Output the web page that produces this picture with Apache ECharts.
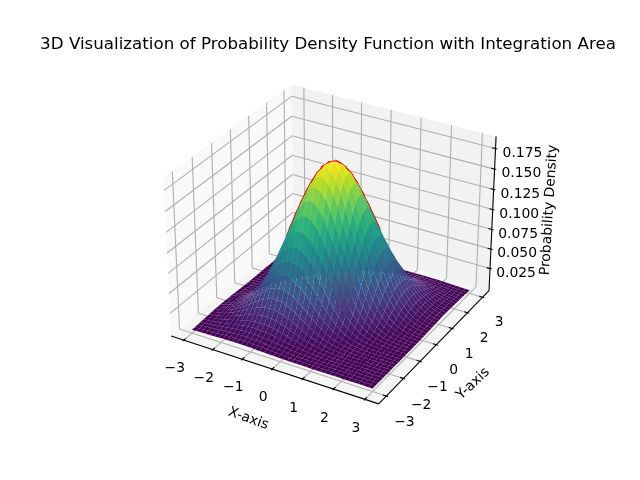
<!DOCTYPE html>
<html><head><meta charset="utf-8"><style>html,body{margin:0;padding:0;background:#fff}#c{width:640px;height:480px}</style>
<script src="https://cdn.jsdelivr.net/npm/echarts@6/dist/echarts.min.js"></script></head><body><div id="c"></div>
<script>
const zUnit = 1e-4;
// Row r is x index m = 2r+1 (half-steps from the centre); it holds y index n = -m,-m+2,...,m.
const surfaceStep = 6/39;
const surfaceRows = [
[1816,1831],
[1652,1746,1788,1774],
[1367,1515,1626,1692,1705,1665],
[1029,1196,1346,1468,1551,1588,1576,1515],
[705,859,1013,1159,1284,1378,1434,1445,1411,1335],
[439,561,694,832,966,1088,1186,1254,1284,1274,1224,1140],
[249,333,432,543,662,781,893,989,1062,1105,1114,1088,1029,944],
[128,180,245,323,412,510,611,710,800,872,922,944,936,900,838,757],
[60,88,126,174,234,303,381,464,547,626,694,745,775,781,763,722,662,588],
[26,40,59,86,120,164,216,276,341,409,475,535,583,616,631,626,602,561,506,442],
[10,16,25,38,56,80,111,149,193,243,296,349,399,442,475,494,498,486,460,422,375,323],
[4,6,10,16,24,36,52,73,100,131,168,207,249,289,325,355,375,384,381,366,341,308,269,228],
[1,2,3,6,9,15,22,33,47,65,86,112,141,172,203,232,257,276,287,289,282,267,245,218,187,156],
[0,1,1,2,3,5,9,13,20,29,41,55,73,93,115,138,160,180,196,207,212,211,203,189,170,149,126,104],
[0,0,0,1,1,2,3,5,8,12,17,25,34,46,59,74,91,107,122,135,145,151,152,149,141,129,115,99,82,67],
[0,0,0,0,0,1,1,2,3,4,7,10,15,20,28,37,47,58,69,80,91,99,104,107,106,102,95,86,75,64,52,41],
[0,0,0,0,0,0,0,1,1,1,2,4,6,8,12,16,22,28,36,43,51,59,65,70,73,73,72,68,62,55,47,40,32,25],
[0,0,0,0,0,0,0,0,0,0,1,1,2,3,5,7,9,13,17,21,26,32,37,41,45,48,49,49,47,43,39,34,29,24,19,15],
[0,0,0,0,0,0,0,0,0,0,0,0,1,1,2,2,4,5,7,9,12,16,19,22,26,28,31,32,32,31,30,27,24,21,17,14,11,8],
[0,0,0,0,0,0,0,0,0,0,0,0,0,0,1,1,1,2,3,4,5,7,9,11,13,16,17,19,20,20,20,19,18,16,14,12,10,8,6,5]];
// integration area: mesh over [-1,1]; row a holds y index -a..a for x index a
const areaStep = 0.125;
const areaRows = [
[1838],
[1781,1819,1819],
[1622,1709,1763,1781,1763],
[1387,1508,1605,1673,1709,1709,1673],
[1115,1250,1373,1477,1556,1605,1622,1605,1556],
[841,974,1103,1224,1331,1416,1477,1508,1508,1477,1416],
[597,712,833,954,1069,1174,1263,1331,1373,1387,1373,1331,1263],
[398,490,591,698,807,915,1015,1103,1174,1224,1250,1250,1224,1174,1103],
[249,316,393,480,572,669,766,859,944,1015,1069,1103,1115,1103,1069,1015,944]];
const xTicks = [-3,-2,-1,0,1,2,3];
const yTicks = [-3,-2,-1,0,1,2,3];
const zTicks = [0.025,0.05,0.075,0.1,0.125,0.15,0.175];
const zTickLabels = ['0.025','0.050','0.075','0.100','0.125','0.150','0.175'];
const xLim = [-3.3,3.3], yLim = [-3.3,3.3], zLim = [0,0.1838];
const titleText = '3D Visualization of Probability Density Function with Integration Area';
const viridis = ['#440154','#482475','#414487','#355f8d','#2a788e','#21918c','#22a884','#44bf70','#7ad151','#bddf26','#fde725'];

const SN=surfaceRows.length*2, AC=areaRows.length-1, AN=2*AC+1;
function Zs(i,j){let a=2*i-(SN-1),b=2*j-(SN-1);if(Math.abs(a)<Math.abs(b)){const t=a;a=b;b=t;}if(a<0){a=-a;b=-b;}return surfaceRows[(a-1)/2][(b+a)/2]*zUnit;}
function Za(i,j){let a=i-AC,b=j-AC;if(Math.abs(a)<Math.abs(b)){const t=a;a=b;b=t;}if(a<0){a=-a;b=-b;}return areaRows[a][b+a]*zUnit;}
const sx=i=>(i-(SN-1)/2)*surfaceStep, ax=i=>(i-AC)*areaStep;
// camera
const nrm=Math.sqrt(41), sc=1.8294640721620434/nrm, box=[4*sc,4*sc,3*sc];
const el=30*Math.PI/180, az=-60*Math.PI/180, dist=10;
const R=box.map(v=>v/2);
const W=[Math.cos(el)*Math.cos(az),Math.cos(el)*Math.sin(az),Math.sin(el)];
const eye=[R[0]+dist*W[0],R[1]+dist*W[1],R[2]+dist*W[2]];
const cross=(a,b)=>[a[1]*b[2]-a[2]*b[1],a[2]*b[0]-a[0]*b[2],a[0]*b[1]-a[1]*b[0]];
const dot=(a,b)=>a[0]*b[0]+a[1]*b[1]+a[2]*b[2];
let U=cross([0,0,1],W);const ul=Math.sqrt(dot(U,U));U=U.map(v=>v/ul);const V=cross(W,U);
function world(x,y,z){return [(x-xLim[0])/(xLim[1]-xLim[0])*box[0]-eye[0],(y-yLim[0])/(yLim[1]-yLim[0])*box[1]-eye[1],(z-zLim[0])/(zLim[1]-zLim[0])*box[2]-eye[2]];}
function proj(x,y,z){const p=world(x,y,z),d=-dot(W,p);return [dot(U,p)/d,dot(V,p)/d];}
function depth(x,y,z){return dot(W,world(x,y,z));}
const xd=(xLim[1]-xLim[0])/48,yd=(yLim[1]-yLim[0])/48,zd=(zLim[1]-zLim[0])/48;
const X0=xLim[0]-xd,X1=xLim[1]+xd,Y0=yLim[0]-yd,Y1=yLim[1]+yd,Z0=zLim[0]-zd,Z1=zLim[1]+zd+0.002;
const rx=xLim[1]-xLim[0],ry=yLim[1]-yLim[0];

const avgS=(i,j)=>(Zs(i,j)+Zs(i+1,j)+Zs(i,j+1)+Zs(i+1,j+1))/4;
const avgA=(i,j)=>(Za(i,j)+Za(i+1,j)+Za(i,j+1)+Za(i+1,j+1))/4;
const cells=[],redCells=[];
let zmin=Infinity,zmax=-Infinity;
for(let i=0;i<SN-1;i++)for(let j=0;j<SN-1;j++){
  const avg=avgS(i,j);zmin=Math.min(zmin,avg);zmax=Math.max(zmax,avg);
  cells.push([i,j,depth((sx(i)+sx(i+1))/2,(sx(j)+sx(j+1))/2,avg)]);
}
for(let i=0;i<AN-1;i++)for(let j=0;j<AN-1;j++)redCells.push([i,j,depth((ax(i)+ax(i+1))/2,(ax(j)+ax(j+1))/2,avgA(i,j))]);
cells.sort((a,b)=>a[2]-b[2]);redCells.sort((a,b)=>a[2]-b[2]);
const corners=(i,j)=>[[i,j],[i+1,j],[i+1,j+1],[i,j+1]];
const surfaceItem=(params,api)=>{const i=api.value(0),j=api.value(1);
  return {type:'polygon',shape:{points:corners(i,j).map(c=>api.coord(proj(sx(c[0]),sx(c[1]),Zs(c[0],c[1]))))},style:{fill:echarts.color.lerp((avgS(i,j)-zmin)/(zmax-zmin),viridis),stroke:null}};};
const redItem=(params,api)=>{const i=api.value(0),j=api.value(1);
  return {type:'polygon',shape:{points:corners(i,j).map(c=>api.coord(proj(ax(c[0]),ax(c[1]),Za(c[0],c[1]))))},style:{fill:'#ff0000',stroke:'#ff0000',lineWidth:1.4}};};

// frame
const panes=[
 {c:'#f9f9f9',p:[[X0,Y0,Z0],[X0,Y1,Z0],[X0,Y1,Z1],[X0,Y0,Z1]]},
 {c:'#f2f2f2',p:[[X0,Y1,Z0],[X1,Y1,Z0],[X1,Y1,Z1],[X0,Y1,Z1]]},
 {c:'#f5f5f5',p:[[X0,Y0,Z0],[X1,Y0,Z0],[X1,Y1,Z0],[X0,Y1,Z0]]}];
const segs=[];
const GRID='#b0b0b0',BLK='#000000';
for(const t of xTicks){segs.push([[t,Y0,Z0],[t,Y1,Z0],GRID],[[t,Y1,Z0],[t,Y1,Z1],GRID]);}
for(const t of yTicks){segs.push([[X1,t,Z0],[X0,t,Z0],GRID],[[X0,t,Z0],[X0,t,Z1],GRID]);}
for(const t of zTicks){segs.push([[X0,Y0,t],[X0,Y1,t],GRID],[[X0,Y1,t],[X1,Y1,t],GRID]);}
segs.push([[X0,Y0,Z0],[X1,Y0,Z0],BLK],[[X1,Y0,Z0],[X1,Y1,Z0],BLK],[[X1,Y1,Z0],[X1,Y1,Z1],BLK]);
const tkO=0.1/12,tkI=0.2/12;
for(const t of xTicks)segs.push([[t,Y0-tkO*ry,Z0],[t,Y0+tkI*ry,Z0],BLK]);
for(const t of yTicks)segs.push([[X1+tkO*rx,t,Z0],[X1-tkI*rx,t,Z0],BLK]);
for(const t of zTicks)segs.push([[X1+tkO*rx,Y1,t],[X1-tkI*rx,Y1,t],BLK]);
const frameData=[];panes.forEach((_,k)=>frameData.push(['p',k]));segs.forEach((_,k)=>frameData.push(['s',k]));
const frameItem=(params,api)=>{const idx=params.dataIndex,it=frameData[idx];
  if(it[0]==='p'){const pn=panes[it[1]];return {type:'polygon',shape:{points:pn.p.map(q=>api.coord(proj(q[0],q[1],q[2])))},style:{fill:pn.c}};}
  const s=segs[it[1]],a=api.coord(proj(...s[0])),b=api.coord(proj(...s[1]));
  return {type:'line',shape:{x1:a[0],y1:a[1],x2:b[0],y2:b[1]},style:{stroke:s[2],lineWidth:1.1}};};
// labels
const fmt=v=>String(v).replace('-','\u2212');
const labels=[];
for(const t of xTicks)labels.push([fmt(t),[t+0.03,Y0-0.55,Z0-0.024],0]);
for(const t of yTicks)labels.push([fmt(t),[X1+0.58,t,Z0-0.026],0]);
zTicks.forEach((t,k)=>labels.push([zTickLabels[k],[X1+0.73,Y1+0.28,t-0.003],0]));
labels.push(['X-axis',[0,Y0-1.3,Z0-0.034],-20*Math.PI/180]);
labels.push(['Y-axis',[X1+1.22,0,Z0-0.035],43*Math.PI/180]);
labels.push(['Probability Density',[X1+1.58,Y1+0.5,(Z0+Z1)/2+0.014],86.5*Math.PI/180]);
const labelItem=(params,api)=>{const l=labels[params.dataIndex],a=api.coord(proj(...l[1]));
  return {type:'text',x:a[0],y:a[1],rotation:l[2],style:{text:l[0],fill:'#000',font:'13.9px "DejaVu Sans"',textAlign:'center',textVerticalAlign:'middle'}};};

const base={type:'custom',coordinateSystem:'cartesian2d',silent:true,animation:false,progressive:0,clip:false};
const chart=echarts.init(document.getElementById('c'),null,{renderer:'canvas'});
chart.setOption({animation:false,backgroundColor:'#fff',
 title:{text:titleText,left:323,top:31,textAlign:'center',textStyle:{fontFamily:'DejaVu Sans',fontWeight:'normal',fontSize:16.7,color:'#000'}},
 grid:{left:143.2,top:57.6,width:369.6,height:369.6,containLabel:false},
 xAxis:{type:'value',min:-0.095,max:0.09,show:false},
 yAxis:{type:'value',min:-0.095,max:0.09,show:false},
 series:[
  Object.assign({},base,{name:'frame',data:frameData.map((d,k)=>[k,0]),renderItem:frameItem}),
  Object.assign({},base,{name:'integration area',data:redCells.map(c=>[c[0],c[1]]),renderItem:redItem}),
  Object.assign({},base,{name:'density',data:cells.map(c=>[c[0],c[1]]),renderItem:surfaceItem}),
  Object.assign({},base,{name:'labels',data:labels.map((d,k)=>[k,0]),renderItem:labelItem})
 ]});
</script></body></html>
